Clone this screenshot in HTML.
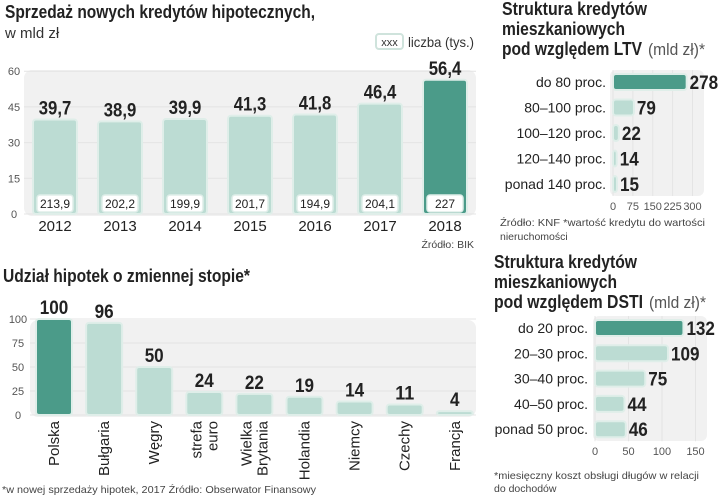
<!DOCTYPE html>
<html><head><meta charset="utf-8">
<style>
body{margin:0;background:#fff;}
svg{display:block;font-family:"Liberation Sans",sans-serif;}
.t{font-weight:bold;font-size:18px;fill:#222;}
.l{font-size:14px;fill:#333;}
.s{font-size:10.5px;fill:#444;}
.v{font-weight:bold;font-size:19px;fill:#222;}
</style></head><body>
<svg id="c" width="720" height="495" viewBox="0 0 720 495">
<text class="t" x="5" y="18" textLength="310" lengthAdjust="spacingAndGlyphs">Sprzedaż nowych kredytów hipotecznych,</text>
<text class="l" x="5" y="38" style="font-size:15px">w mld zł</text>
<rect x="376" y="34" width="27" height="15" rx="3" fill="#fff" stroke="#cfe3dc" stroke-width="2"/>
<text x="389.5" y="46" text-anchor="middle" style="font-size:11px" fill="#333">xxx</text>
<text class="l" x="408" y="47" fill="#555" textLength="66" lengthAdjust="spacingAndGlyphs">liczba (tys.)</text>
<text class="s" x="474" y="248" text-anchor="end">Źródło: BIK</text>
<rect x="24" y="70" width="452" height="146" rx="8" fill="#f1f1f1"/>

<text class="t" x="3" y="282" textLength="247" lengthAdjust="spacingAndGlyphs">Udział hipotek o zmiennej stopie*</text>
<rect x="30" y="320" width="446" height="97" rx="8" fill="#f1f1f1"/>
<text class="s" x="2" y="493" textLength="314" lengthAdjust="spacingAndGlyphs">*w nowej sprzedaży hipotek, 2017 Źródło: Obserwator Finansowy</text>

<text class="t" x="502" y="15" textLength="145" lengthAdjust="spacingAndGlyphs">Struktura kredytów</text>
<text class="t" x="502" y="35" textLength="123" lengthAdjust="spacingAndGlyphs">mieszkaniowych</text>
<text class="t" x="502" y="55" textLength="140" lengthAdjust="spacingAndGlyphs">pod względem LTV</text>
<text x="648" y="55" font-size="17" fill="#555" textLength="57" lengthAdjust="spacingAndGlyphs">(mld zł)*</text>
<rect x="610" y="70" width="94" height="126" rx="6" fill="#f1f1f1"/>
<text class="s" x="500" y="226" textLength="205" lengthAdjust="spacingAndGlyphs">Źródło: KNF *wartość kredytu do wartości</text>
<text class="s" x="500" y="240">nieruchomości</text>

<text class="t" x="494" y="268" textLength="143" lengthAdjust="spacingAndGlyphs">Struktura kredytów</text>
<text class="t" x="494" y="288" textLength="123" lengthAdjust="spacingAndGlyphs">mieszkaniowych</text>
<text class="t" x="494" y="308" textLength="149" lengthAdjust="spacingAndGlyphs">pod względem DSTI</text>
<text x="649" y="308" font-size="17" fill="#555" textLength="57" lengthAdjust="spacingAndGlyphs">(mld zł)*</text>
<rect x="593" y="316" width="114" height="125" rx="6" fill="#f1f1f1"/>
<text class="s" x="494" y="479" textLength="205" lengthAdjust="spacingAndGlyphs">*miesięczny koszt obsługi długów w relacji</text>
<text class="s" x="494" y="492">do dochodów</text>
</svg>
<script>
const years=["2012","2013","2014","2015","2016","2017","2018"];
const sales=[39.7,38.9,39.9,41.3,41.8,46.4,56.4];
const counts=["213,9","202,2","199,9","201,7","194,9","204,1","227"];
const ticks1=[0,15,30,45,60];
const countries=["Polska","Bułgaria","Węgry","strefa|euro","Wielka|Brytania","Holandia","Niemcy","Czechy","Francja"];
const shares=[100,96,50,24,22,19,14,11,4];
const ticks2=[0,25,50,75,100];
const ltvCats=["do 80 proc.","80–100 proc.","100–120 proc.","120–140 proc.","ponad 140 proc."];
const ltvVals=[278,79,22,14,15];
const ticks3=[0,75,150,225,300];
const dstiCats=["do 20 proc.","20–30 proc.","30–40 proc.","40–50 proc.","ponad 50 proc."];
const dstiVals=[132,109,75,44,46];
const ticks4=[0,50,100,150];

const svg=document.getElementById('c');
const NS="http://www.w3.org/2000/svg";
function mk(tag,at,txt){const e=document.createElementNS(NS,tag);for(const k in at)e.setAttribute(k,at[k]);if(txt!=null)e.textContent=txt;svg.appendChild(e);return e;}
const DARK="#4b9b89",LIGHT="#bcdcd3",STROKE="#dfeee9";
function fmt(v){return String(v).replace('.',',');}
function vlen(s){s=String(s);let n=0;for(const ch of s)n+=(ch===','?4:9.5);return n;}
function vlabel(at,txt){at.textLength=vlen(txt);at.lengthAdjust='spacingAndGlyphs';at.class='v';return mk('text',at,txt);}

// chart 1
const y1=v=>214-v*2.38, x1=i=>55+i*65;
ticks1.forEach(t=>{
 const g=mk('line',{x1:24,x2:476,y1:y1(t),y2:y1(t),stroke:"#e4e4e4"});
 
 
 const e=mk('text',{x:14,y:y1(t)+4,'text-anchor':'middle','font-size':11,fill:'#555'},t);
 
 
});
years.forEach((yr,i)=>{
 const last=i===years.length-1;
 const b=mk('rect',{x:x1(i)-22,y:y1(sales[i]),width:44,height:214-y1(sales[i]),rx:3,fill:last?DARK:LIGHT,stroke:STROKE,'stroke-width':2});
 
 
 const v=vlabel({x:x1(i),y:y1(sales[i])-5,'text-anchor':'middle'},fmt(sales[i]));
 
 
 const c=mk('rect',{x:x1(i)-18,y:195,width:36,height:17,rx:3,fill:'#fff',stroke:STROKE,'stroke-width':1.5});
 
 
 const ct=mk('text',{x:x1(i),y:208,'text-anchor':'middle','font-size':12,fill:'#222'},counts[i]);
 
 
 const yl=mk('text',{x:x1(i),y:231,'text-anchor':'middle','font-size':15,fill:'#222'},yr);
 
 
});

// chart 2
const y2=v=>415-v*0.96, x2=i=>54+i*50.1;
ticks2.forEach(t=>{
 const g=mk('line',{x1:30,x2:476,y1:y2(t),y2:y2(t),stroke:"#e4e4e4"});
 
 
 const e=mk('text',{x:18,y:y2(t)+4,'text-anchor':'middle','font-size':11,fill:'#555'},t);
 
 
});
countries.forEach((c,i)=>{
 const h=Math.max(shares[i]*0.96,3);
 const b=mk('rect',{x:x2(i)-18,y:415-h,width:36,height:h,rx:3,fill:i===0?DARK:LIGHT,stroke:STROKE,'stroke-width':2});
 
 
 const v=vlabel({x:x2(i),y:415-h-5,'text-anchor':'middle'},shares[i]);
 
 
 const parts=c.split('|');
 parts.forEach((p,k)=>{
  const dx=x2(i)+5+(k-(parts.length-1)/2)*16;
  const t=mk('text',{x:0,y:0,'text-anchor':'end','font-size':15,fill:'#222',transform:`translate(${dx},421) rotate(-90)`},p);
  
  
 });
});

// horizontal bar charts
function hbar(cats,vals,ticks,x0,scale,rows,rowH,tickY,pfx){
 ticks.forEach(t=>{
  const x=x0+t*scale;
  const g=mk('line',{x1:x,x2:x,y1:rows-12,y2:rows+rowH*4+12,stroke:"#e4e4e4"});
  
  
  const e=mk('text',{x:x,y:tickY,'text-anchor':'middle','font-size':11,fill:'#555'},t);
  
  
 });
 cats.forEach((c,i)=>{
  const y=rows+i*rowH, w=Math.max(vals[i]*scale,3);
  const b=mk('rect',{x:x0,y:y-8,width:w,height:16,rx:3,fill:i===0?DARK:LIGHT,stroke:STROKE,'stroke-width':2});
  
  
  const l=mk('text',{x:x0-7,y:y+5,'text-anchor':'end','font-size':14,fill:'#222'},c);
  
  
  const v=vlabel({x:x0+w+3,y:y+7},vals[i]);
  
  
 });
}
hbar(ltvCats,ltvVals,ticks3,613,0.265,82,25.5,210,'ltv');
hbar(dstiCats,dstiVals,ticks4,595,0.67,328,25.3,455,'dsti');
</script>
</body></html>
